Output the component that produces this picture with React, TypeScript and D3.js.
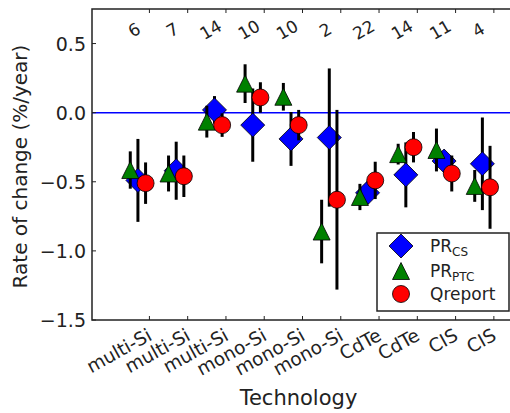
import React from "react";
import * as d3 from "d3";

const categories = ["multi-Si", "multi-Si", "multi-Si", "mono-Si", "mono-Si", "mono-Si", "CdTe", "CdTe", "CIS", "CIS"];
const counts = [6, 7, 14, 10, 10, 2, 22, 14, 11, 4];
const prCS = [-0.49, -0.42, 0.02, -0.09, -0.19, -0.18, -0.58, -0.45, -0.35, -0.37];
const prCSErr = [0.3, 0.21, 0.1, 0.265, 0.195, 0.5, 0.08, 0.235, 0.07, 0.335];
const prPTC = [-0.415, -0.44, -0.065, 0.21, 0.115, -0.86, -0.61, -0.3, -0.27, -0.53];
const prPTCErr = [0.135, 0.13, 0.115, 0.14, 0.1, 0.23, 0.095, 0.075, 0.155, 0.115];
const qreport = [-0.51, -0.46, -0.09, 0.11, -0.09, -0.63, -0.49, -0.25, -0.44, -0.54];
const qreportErr = [0.15, 0.15, 0.085, 0.11, 0.11, 0.65, 0.135, 0.11, 0.13, 0.3];
const yTicks = [-1.5, -1.0, -0.5, 0.0, 0.5];

const W = 510, H = 413;
const L = 92, R = 513, T = 9, B = 320;
const FONT = "DejaVu Sans, sans-serif";

export default function App() {
  const x = d3.scaleLinear().domain([-0.5, 10.5]).range([L, R]);
  const y = d3.scaleLinear().domain([-1.5, 0.75]).range([B, T]);
  const idx = d3.range(1, 11);
  const fmt = (v: number) => (v < 0 ? "\u2212" : "") + d3.format(".1f")(Math.abs(v));

  const series = [
    { key: "cs", vals: prCS, errs: prCSErr, off: -0.3, color: "#0000ff", shape: "D" },
    { key: "ptc", vals: prPTC, errs: prPTCErr, off: -0.5, color: "#008000", shape: "^" },
    { key: "q", vals: qreport, errs: qreportErr, off: -0.1, color: "#ff0000", shape: "o" },
  ];

  const marker = (shape: string, cx: number, cy: number, color: string, k: string) => {
    const s = 8.5;
    if (shape === "D") {
      const d = 12;
      return <path key={k} d={`M${cx},${cy - d}L${cx + d},${cy}L${cx},${cy + d}L${cx - d},${cy}Z`} fill={color} stroke="#000" strokeWidth={0.8} />;
    }
    if (shape === "^") {
      return <path key={k} d={`M${cx},${cy - s}L${cx + s},${cy + s}L${cx - s},${cy + s}Z`} fill={color} stroke="#000" strokeWidth={0.8} />;
    }
    return <circle key={k} cx={cx} cy={cy} r={s} fill={color} stroke="#000" strokeWidth={0.8} />;
  };

  return (
    <svg width={W} height={H} style={{ position: "absolute", left: 0, top: 0, background: "#fff" }} fontFamily={FONT}>
      <defs>
        <clipPath id="plot">
          <rect x={L} y={T} width={R - L} height={B - T} />
        </clipPath>
      </defs>
      <line x1={L} x2={R} y1={y(0)} y2={y(0)} stroke="#0000ff" strokeWidth={1.5} />
      <g clipPath="url(#plot)">
        {series.map((s) => (
          <g key={s.key}>
            {s.vals.map((v, i) => {
              const cx = x(idx[i] + s.off);
              return (
                <line key={"e" + i} x1={cx} x2={cx} y1={y(v - s.errs[i])} y2={y(v + s.errs[i])} stroke="#000" strokeWidth={3} />
              );
            })}
            {s.vals.map((v, i) => marker(s.shape, x(idx[i] + s.off), y(v), s.color, "m" + i))}
          </g>
        ))}
      </g>
      <rect x={L} y={T} width={R - L} height={B - T} fill="none" stroke="#222" strokeWidth={1.5} />
      {yTicks.map((t) => (
        <g key={t}>
          <line x1={L} x2={L + 4} y1={y(t)} y2={y(t)} stroke="#222" />
          <text x={L - 6} y={y(t)} textAnchor="end" dominantBaseline="central" fontSize={19} fill="#222">
            {fmt(t)}
          </text>
        </g>
      ))}
      {idx.map((v, i) => (
        <g key={v}>
          <line x1={x(v)} x2={x(v)} y1={B} y2={B - 4} stroke="#222" />
          <line x1={x(v)} x2={x(v)} y1={T} y2={T + 4} stroke="#222" />
          <text
            transform={`translate(${x(v) - 3},${B + 7}) rotate(-29)`}
            textAnchor="end"
            dy="0.75em"
            fontSize={18.5}
            fill="#222"
          >
            {categories[i]}
          </text>
          <text
            transform={`translate(${x(v - 0.4)},${y(0.6)}) rotate(-30)`}
            textAnchor="middle"
            dominantBaseline="central"
            fontSize={17}
            fill="#222"
          >
            {counts[i]}
          </text>
        </g>
      ))}
      <text x={(L + R) / 2 - 4} y={405} textAnchor="middle" fontSize={21} fill="#222">
        Technology
      </text>
      <text transform={`translate(27,${(T + B) / 2 + 2}) rotate(-90)`} textAnchor="middle" fontSize={20} fill="#222">
        Rate of change (%/year)
      </text>
      <g>
        <rect x={377} y={233} width={132} height={78} fill="#fff" stroke="#222" strokeWidth={1.5} />
        {marker("D", 401, 246, "#0000ff", "l1")}
        {marker("^", 401, 271, "#008000", "l2")}
        {marker("o", 401, 294, "#ff0000", "l3")}
        <text x={430} y={252} fontSize={17} fill="#222">
          PR<tspan fontSize={12} dy={4}>CS</tspan>
        </text>
        <text x={430} y={277} fontSize={17} fill="#222">
          PR<tspan fontSize={12} dy={4}>PTC</tspan>
        </text>
        <text x={430} y={300} fontSize={17} fill="#222">
          Qreport
        </text>
      </g>
    </svg>
  );
}
